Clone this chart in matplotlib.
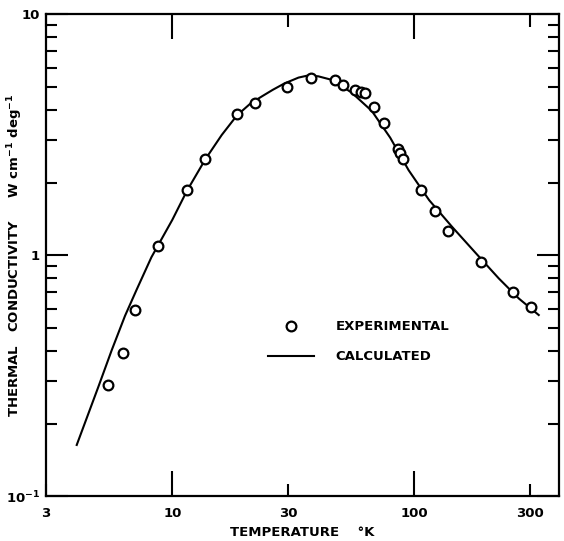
import numpy as np
import matplotlib
matplotlib.use("Agg")
import matplotlib.pyplot as plt
from matplotlib.ticker import FixedLocator, FixedFormatter, NullFormatter

# experimental points (temperature K, conductivity W/cm/deg)
exp_T = [5.44, 6.24, 7.03, 8.71, 11.5, 13.7, 18.5, 22.0, 29.7, 37.3,
         46.8, 50.9, 57.0, 60.4, 62.7, 68.3, 75.1, 85.5, 87.5, 89.4,
         106, 122, 137, 188, 255, 302]
exp_k = [0.289, 0.394, 0.594, 1.09, 1.87, 2.51, 3.85, 4.28, 4.98, 5.44,
         5.32, 5.07, 4.84, 4.74, 4.69, 4.10, 3.52, 2.75, 2.64, 2.50,
         1.87, 1.53, 1.26, 0.933, 0.700, 0.607]

# calculated curve
calc_T = [4.03, 4.95, 5.62, 6.38, 7.13, 8.2, 10.0, 11.5, 13.7, 16.0, 18.5,
          21.0, 23.4, 26.0, 29.0, 33.2, 36.0, 40.0, 46.0, 55.2, 66.7, 79.4,
          94.6, 115, 143, 179, 223, 270, 326]
calc_k = [0.163, 0.284, 0.403, 0.56, 0.72, 0.98, 1.40, 1.85, 2.50, 3.15, 3.80,
          4.25, 4.55, 4.85, 5.15, 5.45, 5.55, 5.52, 5.32, 4.71, 3.96, 3.07,
          2.25, 1.69, 1.31, 1.02, 0.80, 0.66, 0.564]

x_major = [10, 100]
x_minor = [3, 30, 300]

plt.rcParams["font.weight"] = "bold"
plt.rcParams["axes.labelweight"] = "bold"
plt.rcParams["mathtext.default"] = "bf"

fig = plt.figure(figsize=(5.64, 5.41), dpi=100)
ax = fig.add_axes([0.081, 0.083, 0.91, 0.891])

ax.plot(calc_T, calc_k, color="black", lw=1.5, label="CALCULATED")
ax.plot(exp_T, exp_k, "o", ms=7, mfc="white", mec="black", mew=1.6,
        label="EXPERIMENTAL")

ax.set_xscale("log")
ax.set_yscale("log")
ax.set_xlim(3, 395)
ax.set_ylim(0.1, 10)

for s in ax.spines.values():
    s.set_linewidth(1.6)

ax.xaxis.set_major_locator(FixedLocator(x_major))
ax.xaxis.set_major_formatter(FixedFormatter([str(v) for v in x_major]))
ax.xaxis.set_minor_locator(FixedLocator(x_minor))
ax.xaxis.set_minor_formatter(FixedFormatter([str(v) for v in x_minor]))

ax.yaxis.set_major_locator(FixedLocator([0.1, 1, 10]))
ax.yaxis.set_major_formatter(FixedFormatter([r"10$^{-1}$", "1", "10"]))
ax.yaxis.set_minor_locator(FixedLocator(
    [v * d for d in (0.1, 1) for v in range(2, 10)]))
ax.yaxis.set_minor_formatter(NullFormatter())

ax.tick_params(axis="x", which="major", direction="in", length=18, width=1.5,
               top=True, pad=8, labelsize=9.5)
ax.tick_params(axis="x", which="minor", direction="in", length=9, width=1.5,
               top=True, pad=8, labelsize=9.5)
ax.tick_params(axis="y", which="major", direction="in", length=16, width=1.5,
               right=True, pad=4, labelsize=9.5)
ax.tick_params(axis="y", which="minor", direction="in", length=8, width=1.5,
               right=True)

ax.set_xlabel("TEMPERATURE    °K", fontsize=9.5, labelpad=4)
ax.set_ylabel("THERMAL   CONDUCTIVITY     W cm$^{-1}$ deg$^{-1}$", fontsize=9.5)
ax.yaxis.set_label_coords(-0.04, 0.5)

h, l = ax.get_legend_handles_labels()
ax.legend(h[::-1], l[::-1], loc="center left", bbox_to_anchor=(0.41, 0.32),
          frameon=False, fontsize=9.5, numpoints=1, handlelength=3.5,
          handletextpad=1.6, labelspacing=1.3)

fig.savefig("out.png", dpi=100)
